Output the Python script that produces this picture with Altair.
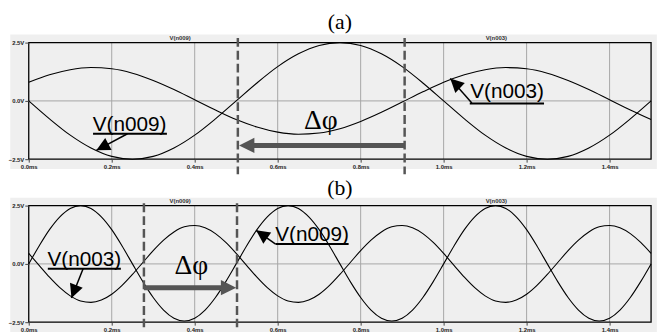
import altair as alt
import pandas as pd

# ---------------- data ----------------
X_TICKS = [0.0, 0.2, 0.4, 0.6, 0.8, 1.0, 1.2, 1.4]
Y_TICKS = [-2.5, 0.0, 2.5]

TIME_A = [0.00, 0.05, 0.10, 0.15, 0.20, 0.25, 0.30, 0.35, 0.40, 0.45,
          0.50, 0.55, 0.60, 0.65, 0.70, 0.75, 0.80, 0.85, 0.90, 0.95,
          1.00, 1.05, 1.10, 1.15, 1.20, 1.25, 1.30, 1.35, 1.40, 1.45, 1.50]
N009_A = [0.00, -0.77, -1.47, -2.02, -2.38, -2.50, -2.38, -2.02, -1.47, -0.77,
          0.00, 0.77, 1.47, 2.02, 2.38, 2.50, 2.38, 2.02, 1.47, 0.77,
          0.00, -0.77, -1.47, -2.02, -2.38, -2.50, -2.38, -2.02, -1.47, -0.77, 0.00]
N003_A = [0.80, 1.12, 1.34, 1.43, 1.38, 1.19, 0.88, 0.49, 0.05, -0.39,
          -0.80, -1.12, -1.34, -1.43, -1.38, -1.19, -0.88, -0.49, -0.05, 0.39,
          0.80, 1.12, 1.34, 1.43, 1.38, 1.19, 0.88, 0.49, 0.05, -0.39, -0.80]

TIME_B = [0.000, 0.025, 0.050, 0.075, 0.100, 0.125, 0.150, 0.175, 0.200, 0.225,
          0.250, 0.275, 0.300, 0.325, 0.350, 0.375, 0.400, 0.425, 0.450, 0.475,
          0.500, 0.525, 0.550, 0.575, 0.600, 0.625, 0.650, 0.675, 0.700, 0.725,
          0.750, 0.775, 0.800, 0.825, 0.850, 0.875, 0.900, 0.925, 0.950, 0.975,
          1.000, 1.025, 1.050, 1.075, 1.100, 1.125, 1.150, 1.175, 1.200, 1.225,
          1.250, 1.275, 1.300, 1.325, 1.350, 1.375, 1.400, 1.425, 1.450, 1.475, 1.500]
N009_B = [0.00, 0.77, 1.47, 2.02, 2.38, 2.50, 2.38, 2.02, 1.47, 0.77,
          0.00, -0.76, -1.44, -1.98, -2.33, -2.45, -2.33, -1.98, -1.44, -0.76,
          0.00, 0.77, 1.47, 2.02, 2.38, 2.50, 2.38, 2.02, 1.47, 0.77,
          0.00, -0.76, -1.44, -1.98, -2.33, -2.45, -2.33, -1.98, -1.44, -0.76,
          0.00, 0.77, 1.47, 2.02, 2.38, 2.50, 2.38, 2.02, 1.47, 0.77,
          0.00, -0.76, -1.44, -1.98, -2.33, -2.45, -2.33, -1.98, -1.44, -0.76, 0.00]
N003_B = [0.45, -0.06, -0.57, -1.02, -1.37, -1.59, -1.65, -1.55, -1.30, -0.92,
          -0.45, 0.06, 0.57, 1.02, 1.37, 1.59, 1.65, 1.55, 1.30, 0.92,
          0.45, -0.06, -0.57, -1.02, -1.37, -1.59, -1.65, -1.55, -1.30, -0.92,
          -0.45, 0.06, 0.57, 1.02, 1.37, 1.59, 1.65, 1.55, 1.30, 0.92,
          0.45, -0.06, -0.57, -1.02, -1.37, -1.59, -1.65, -1.55, -1.30, -0.92,
          -0.45, 0.06, 0.57, 1.02, 1.37, 1.59, 1.65, 1.55, 1.30, 0.92, 0.45]

# annotation anchors (in ms / V)
ANN_A = {
    "title": "(a)", "title_offset": 1,
    "dash_t": [0.504, 0.906], "dash_v": [2.70, -3.15],
    "shaft": [0.906, 0.540, -1.91], "head": [0.507, -1.91, 270],
    "dphi": [0.704, -1.21],
    "labels": ["V(n009)", "V(n003)"],
    "label_t": [0.243, 1.153], "label_v": [-1.27, 0.12],
    "ul_t0": [0.155, 1.063], "ul_t1": [0.333, 1.242], "ul_v": [-1.41, -0.11],
    "ptr_t0": [0.238, 1.068], "ptr_v0": [-1.41, -0.09],
    "tip_t": [0.163, 1.016], "tip_v": [-2.12, 0.96], "tip_a": [242, 314],
    "bg": [-0.0445, 1.514, 2.85, -2.92],
}
ANN_B = {
    "title": "(b)", "title_offset": -2,
    "dash_t": [0.2776, 0.502], "dash_v": [2.60, -2.72],
    "shaft": [0.2776, 0.464, -1.02], "head": [0.500, -1.02, 90],
    "dphi": [0.392, -0.44],
    "labels": ["V(n003)", "V(n009)"],
    "label_t": [0.134, 0.683], "label_v": [-0.11, 0.98],
    "ul_t0": [0.046, 0.595], "ul_t1": [0.222, 0.771], "ul_v": [-0.205, 0.85],
    "ptr_t0": [0.131, 0.595], "ptr_v0": [-0.205, 0.85],
    "tip_t": [0.103, 0.548], "tip_v": [-1.46, 1.44], "tip_a": [201, 305],
    "bg": [-0.0445, 1.514, 2.84, -3.20],
}
TOP_NAMES = ["V(n009)", "V(n003)"]
TOP_T = [0.365, 1.127]
TOP_V = 2.71

ARROW = "M0,0L-1,2L1,2Z"

# ---------------- scales / axes ----------------
XS = alt.Scale(domain=[0, 1.5], nice=False, zero=False)
YS = alt.Scale(domain=[-2.5, 2.5], nice=False, zero=False)
LBL = dict(labelFont="Liberation Sans", labelFontSize=6, labelFontWeight="bold",
           labelColor="#222222", tickColor="#444444", title=None, grid=False,
           domain=False, zindex=1, labelPadding=1)
X_AXIS = alt.Axis(values=X_TICKS, labelExpr="format(datum.value, '.1f') + 'ms'",
                  tickSize=3, labelFlush=False, labelOverlap=False, **LBL)
Y_AXIS = alt.Axis(values=Y_TICKS, labelExpr="format(datum.value, '.1f') + 'V'",
                  tickSize=4, labelOverlap=False, **LBL)


def X(f):
    return alt.X(f, type="quantitative", scale=XS, axis=X_AXIS)


def Y(f):
    return alt.Y(f, type="quantitative", scale=YS, axis=Y_AXIS)


def panel(time, s009, s003, ann):
    bg = pd.DataFrame({"x0": [ann["bg"][0]], "x1": [ann["bg"][1]],
                       "y0": [ann["bg"][2]], "y1": [ann["bg"][3]]})
    back = alt.Chart(bg).mark_rect(color="#efefef", clip=False).encode(
        x=X("x0"), x2=alt.X2("x1"), y=Y("y0"), y2=alt.Y2("y1"))

    gx = pd.DataFrame({"g": X_TICKS[1:], "y0": -2.5, "y1": 2.5})
    gridx = alt.Chart(gx).mark_rule(color="#a6a6a6", strokeWidth=1).encode(
        x=X("g"), y=Y("y0"), y2=alt.Y2("y1"))
    gy = pd.DataFrame({"g": [0.0], "x0": [0.0], "x1": [1.5]})
    gridy = alt.Chart(gy).mark_rule(color="#a6a6a6", strokeWidth=1).encode(
        y=Y("g"), x=X("x0"), x2=alt.X2("x1"))

    cdf = pd.DataFrame({"t": list(time) * 2, "v": list(s009) + list(s003),
                        "s": ["V(n009)"] * len(time) + ["V(n003)"] * len(time)})
    curves = alt.Chart(cdf).mark_line(color="black", strokeWidth=1.1,
                                      interpolate="monotone").encode(
        x=X("t"), y=Y("v"), detail="s:N")

    fr = pd.DataFrame({"x0": [0.0], "x1": [1.5], "y0": [-2.5], "y1": [2.5]})
    frame = alt.Chart(fr).mark_rect(filled=False, color="black",
                                    strokeWidth=1.3).encode(
        x=X("x0"), x2=alt.X2("x1"), y=Y("y0"), y2=alt.Y2("y1"))

    dd = pd.DataFrame({"t": ann["dash_t"], "y0": ann["dash_v"][0], "y1": ann["dash_v"][1]})
    dashes = alt.Chart(dd).mark_rule(color="#555555", strokeWidth=2.5,
                                     strokeDash=[9, 4], clip=False).encode(
        x=X("t"), y=Y("y0"), y2=alt.Y2("y1"))

    sh = pd.DataFrame({"t0": [ann["shaft"][0]], "t1": [ann["shaft"][1]], "v": [ann["shaft"][2]]})
    shaft = alt.Chart(sh).mark_rule(color="#555555", strokeWidth=5,
                                    strokeCap="butt").encode(
        x=X("t0"), x2=alt.X2("t1"), y=Y("v"))

    heads = pd.DataFrame({
        "t": [ann["head"][0]] + ann["tip_t"],
        "v": [ann["head"][1]] + ann["tip_v"],
        "a": [ann["head"][2]] + ann["tip_a"],
        "sz": [240, 190, 190],
        "c": ["#555555", "black", "black"],
    })
    head = alt.Chart(heads).mark_point(shape=ARROW, filled=True, opacity=1,
                                       strokeWidth=0).encode(
        x=X("t"), y=Y("v"), angle=alt.Angle("a:Q", scale=None),
        size=alt.Size("sz:Q", scale=None), color=alt.Color("c:N", scale=None))

    dp = pd.DataFrame({"t": [ann["dphi"][0]], "v": [ann["dphi"][1]], "txt": ["Δφ"]})
    dphi = alt.Chart(dp).mark_text(font="Liberation Serif", fontSize=28,
                                   baseline="alphabetic", align="center",
                                   color="black").encode(
        x=X("t"), y=Y("v"), text="txt:N")

    lb = pd.DataFrame({"t": ann["label_t"], "v": ann["label_v"], "txt": ann["labels"]})
    labels = alt.Chart(lb).mark_text(font="Liberation Sans", fontSize=21,
                                     baseline="alphabetic", align="center",
                                     color="black").encode(
        x=X("t"), y=Y("v"), text="txt:N")

    ul = pd.DataFrame({"t0": ann["ul_t0"], "t1": ann["ul_t1"], "v": ann["ul_v"]})
    under = alt.Chart(ul).mark_rule(color="black", strokeWidth=2).encode(
        x=X("t0"), x2=alt.X2("t1"), y=Y("v"))

    pt = pd.DataFrame({"t0": ann["ptr_t0"], "v0": ann["ptr_v0"],
                       "t1": ann["tip_t"], "v1": ann["tip_v"]})
    ptr = alt.Chart(pt).mark_rule(color="black", strokeWidth=1.5).encode(
        x=X("t0"), y=Y("v0"), x2=alt.X2("t1"), y2=alt.Y2("v1"))

    tp = pd.DataFrame({"t": TOP_T, "v": TOP_V, "txt": TOP_NAMES})
    tops = alt.Chart(tp).mark_text(font="Liberation Sans", fontSize=6,
                                   fontWeight="bold", color="#333333",
                                   baseline="middle", align="center",
                                   clip=False).encode(
        x=X("t"), y=Y("v"), text="txt:N")

    return alt.layer(back, gridx, gridy, curves, frame, dashes, shaft, head,
                     dphi, labels, under, ptr, tops).properties(
        width=630, height=118,
        title=alt.TitleParams(ann["title"], font="Liberation Serif", fontSize=22,
                              fontWeight="normal", color="black",
                              anchor="middle", offset=ann["title_offset"]))


pa = panel(TIME_A, N009_A, N003_A, ANN_A)
pb = panel(TIME_B, N009_B, N003_B, ANN_B)

chart = alt.vconcat(pa, pb, spacing=0).properties(padding=0).configure_view(
    stroke=None)

chart.save("out.html", embed_options={"renderer": "svg", "actions": False})
